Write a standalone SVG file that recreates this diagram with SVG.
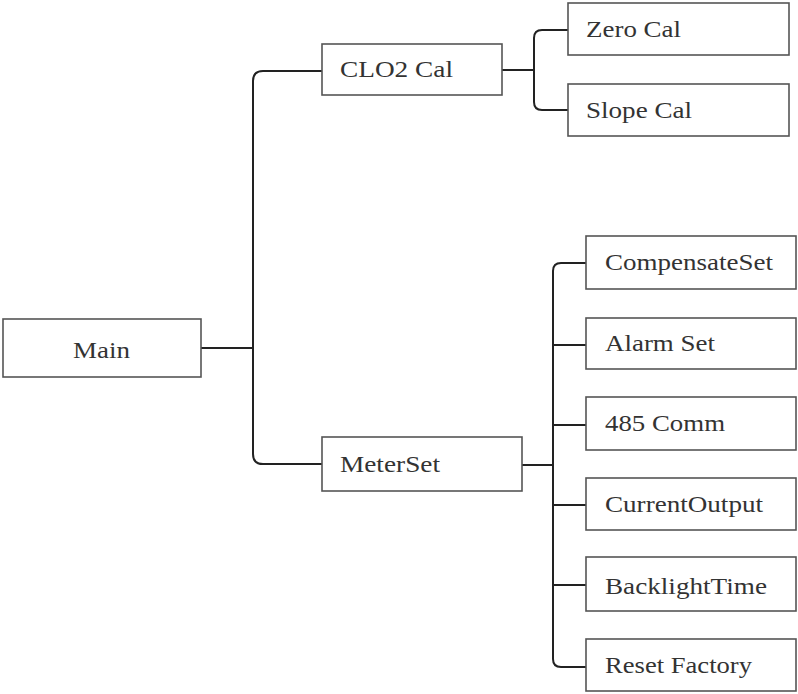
<svg xmlns="http://www.w3.org/2000/svg" width="798" height="694" viewBox="0 0 798 694">
<style>
.box{fill:#fff;stroke:#555;stroke-width:1.6}
.lbl{font-family:"Liberation Serif","Times New Roman",serif;font-size:23px;fill:#333}
.con{fill:none;stroke:#222;stroke-width:2}
</style>
<rect width="798" height="694" fill="#fff"/>
<g id="connectors">
<path class="con" d="M201 348H253"/>
<path class="con" d="M322 71H263Q253 71 253 81V454Q253 464 263 464H322"/>
<path class="con" d="M502 70H534"/>
<path class="con" d="M568 30H542Q534 30 534 38V102Q534 110 542 110H568"/>
<path class="con" d="M522 465H553"/>
<path class="con" d="M586 263H561Q553 263 553 271V659Q553 667 561 667H586"/>
<path class="con" d="M553 345H586M553 425H586M553 505H586M553 585H586"/>
</g>
<g id="main"><rect class="box" x="3" y="319" width="198" height="58"/><text class="lbl" x="73" y="358" textLength="57" lengthAdjust="spacingAndGlyphs">Main</text></g>
<g id="clo2cal"><rect class="box" x="322" y="44" width="180" height="51"/><text class="lbl" x="340" y="77" textLength="113" lengthAdjust="spacingAndGlyphs">CLO2 Cal</text></g>
<g id="meterset"><rect class="box" x="322" y="437" width="200" height="54"/><text class="lbl" x="340" y="472" textLength="100" lengthAdjust="spacingAndGlyphs">MeterSet</text></g>
<g id="zerocal"><rect class="box" x="568" y="3" width="221" height="52"/><text class="lbl" x="586" y="37" textLength="95" lengthAdjust="spacingAndGlyphs">Zero Cal</text></g>
<g id="slopecal"><rect class="box" x="568" y="84" width="221" height="52"/><text class="lbl" x="586" y="118" textLength="106" lengthAdjust="spacingAndGlyphs">Slope Cal</text></g>
<g id="compensateset"><rect class="box" x="586" y="236" width="210" height="53"/><text class="lbl" x="605" y="270" textLength="168" lengthAdjust="spacingAndGlyphs">CompensateSet</text></g>
<g id="alarmset"><rect class="box" x="586" y="318" width="210" height="51"/><text class="lbl" x="605" y="351" textLength="110" lengthAdjust="spacingAndGlyphs">Alarm Set</text></g>
<g id="comm485"><rect class="box" x="586" y="397" width="210" height="53"/><text class="lbl" x="605" y="431" textLength="120" lengthAdjust="spacingAndGlyphs">485 Comm</text></g>
<g id="currentoutput"><rect class="box" x="586" y="478" width="210" height="52"/><text class="lbl" x="605" y="512" textLength="158" lengthAdjust="spacingAndGlyphs">CurrentOutput</text></g>
<g id="backlighttime"><rect class="box" x="586" y="557" width="210" height="54"/><text class="lbl" x="605" y="594" textLength="162" lengthAdjust="spacingAndGlyphs">BacklightTime</text></g>
<g id="resetfactory"><rect class="box" x="586" y="639" width="210" height="52"/><text class="lbl" x="605" y="673" textLength="147" lengthAdjust="spacingAndGlyphs">Reset Factory</text></g>
</svg>
